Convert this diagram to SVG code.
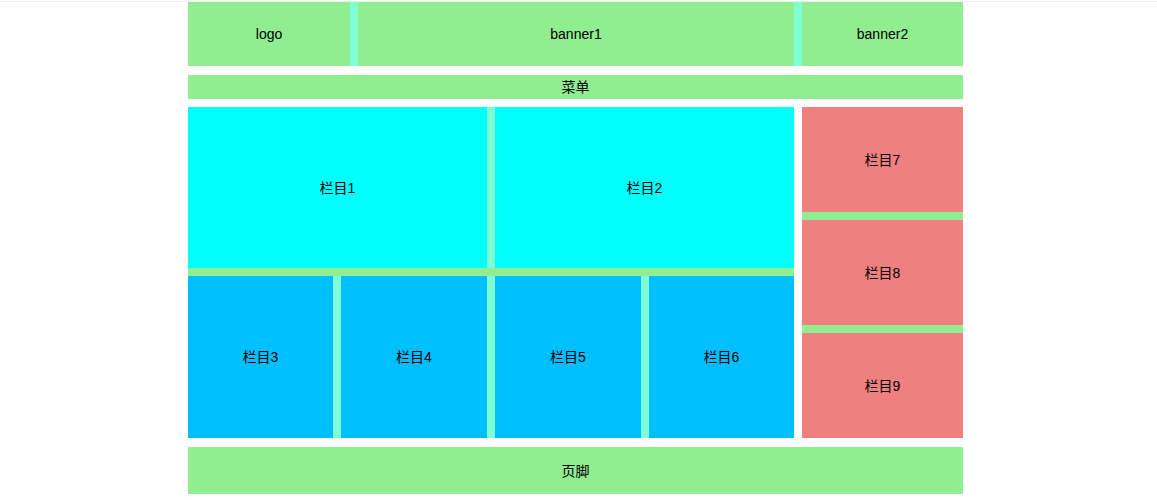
<svg xmlns="http://www.w3.org/2000/svg" width="1157" height="500" viewBox="0 0 1157 500">
<style>
  .lg{fill:#90ee90}
  .aq{fill:#7fffd4}
  .cy{fill:#00ffff}
  .bl{fill:#00bfff}
  .co{fill:#f08080}
  text{font-family:"Liberation Sans","Noto Sans CJK SC",sans-serif;font-size:14px;fill:#000;text-anchor:middle;dominant-baseline:central}
</style>
<rect x="0" y="0" width="1157" height="500" fill="#ffffff"/>
<rect x="0" y="1" width="1157" height="1" fill="#eeeeee"/>
<g id="separators">
  <rect class="aq" x="350" y="2" width="8" height="64"/>
  <rect class="aq" x="794" y="2" width="8" height="64"/>
  <rect class="aq" x="487" y="107" width="8" height="331"/>
  <rect class="aq" x="333" y="276" width="8" height="162"/>
  <rect class="aq" x="641" y="276" width="8" height="162"/>
  <rect class="lg" x="188" y="268" width="606" height="8"/>
  <rect class="lg" x="802" y="212" width="161" height="8"/>
  <rect class="lg" x="802" y="325" width="161" height="8"/>
</g>
<g id="logo"><rect class="lg" x="188" y="2" width="162" height="64"/><text x="269" y="34">logo</text></g>
<g id="banner1"><rect class="lg" x="358" y="2" width="436" height="64"/><text x="576" y="34">banner1</text></g>
<g id="banner2"><rect class="lg" x="802" y="2" width="161" height="64"/><text x="882.5" y="34">banner2</text></g>
<g id="menu"><rect class="lg" x="188" y="75" width="775" height="24"/><text x="575.5" y="87">菜单</text></g>
<g id="col1"><rect class="cy" x="188" y="107" width="299" height="161"/><text x="337.5" y="187.5">栏目1</text></g>
<g id="col2"><rect class="cy" x="495" y="107" width="299" height="161"/><text x="644.5" y="187.5">栏目2</text></g>
<g id="col3"><rect class="bl" x="188" y="276" width="145" height="162"/><text x="260.5" y="357">栏目3</text></g>
<g id="col4"><rect class="bl" x="341" y="276" width="146" height="162"/><text x="414" y="357">栏目4</text></g>
<g id="col5"><rect class="bl" x="495" y="276" width="146" height="162"/><text x="568" y="357">栏目5</text></g>
<g id="col6"><rect class="bl" x="649" y="276" width="145" height="162"/><text x="721.5" y="357">栏目6</text></g>
<g id="col7"><rect class="co" x="802" y="107" width="161" height="105"/><text x="882.5" y="159.5">栏目7</text></g>
<g id="col8"><rect class="co" x="802" y="220" width="161" height="105"/><text x="882.5" y="272.5">栏目8</text></g>
<g id="col9"><rect class="co" x="802" y="333" width="161" height="105"/><text x="882.5" y="385.5">栏目9</text></g>
<g id="footer"><rect class="lg" x="188" y="447" width="775" height="47"/><text x="575.5" y="470.5">页脚</text></g>
<g id="connectors"></g>
</svg>
